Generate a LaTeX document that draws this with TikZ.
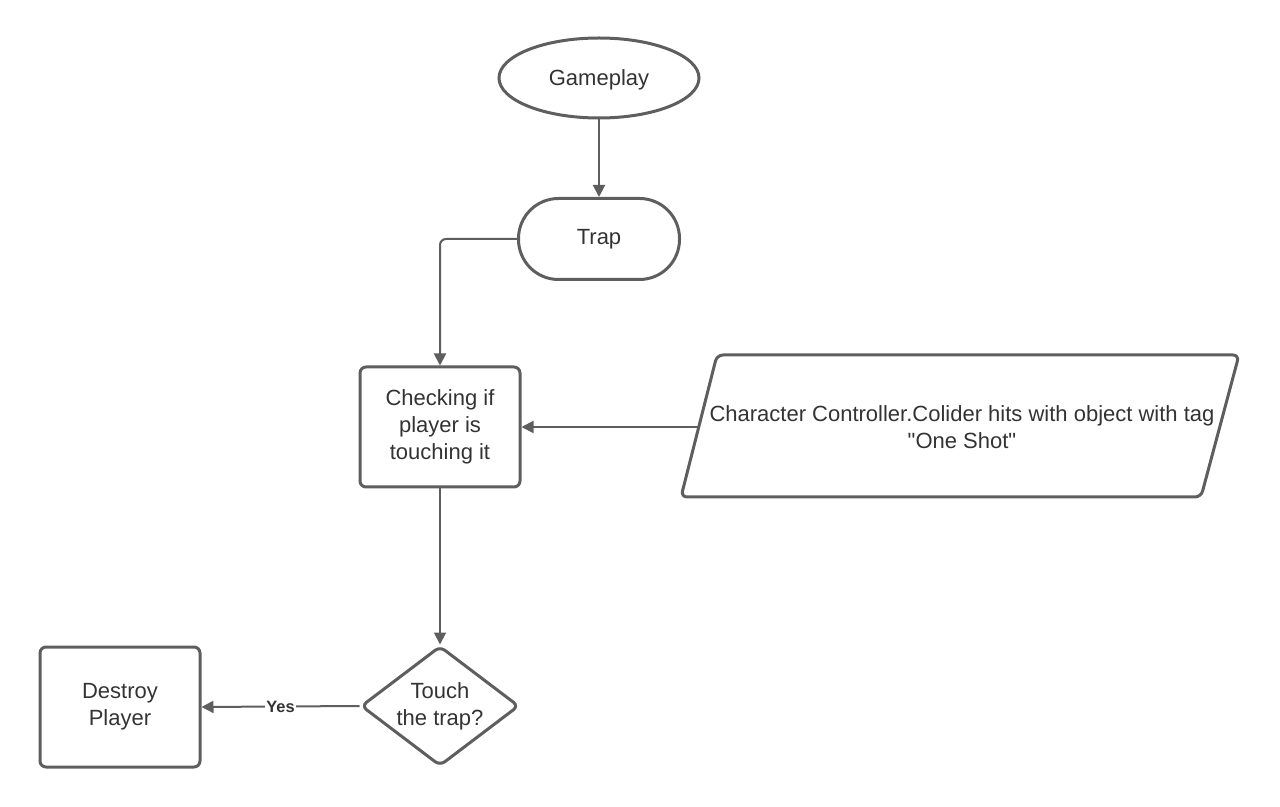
\documentclass[tikz,border=0pt]{standalone}
\usepackage{fontspec}
\setmainfont{Liberation Sans}
\usetikzlibrary{shapes.geometric,arrows.meta}
\definecolor{linegray}{HTML}{5E5E5E}
\definecolor{textgray}{HTML}{333333}
\begin{document}
\begin{tikzpicture}[x=0.5pt,y=-0.5pt,
  every node/.style={text=textgray,font=\fontsize{11}{13.5}\selectfont,align=center},
  shapeline/.style={draw=linegray,line width=1.5pt},
  flowline/.style={draw=linegray,line width=1pt,-{Triangle[length=6pt,width=6pt]}},
  boxshape/.style={shapeline,rectangle,rounded corners=3pt,minimum width=80pt,minimum height=60pt,inner sep=0pt}]
\useasboundingbox (0,0) rectangle (1280,807);
\node (game) at (599,78) [shapeline,ellipse,minimum width=100pt,minimum height=40pt,inner sep=0pt,text depth=0pt] {Gameplay};
\node (trap) at (599,239) [shapeline,rectangle,rounded corners=20pt,minimum width=80.5pt,minimum height=40.5pt] {Trap};
\node (check) at (440,427) [boxshape] {Checking if\\player is\\touching it};
\draw [shapeline,rounded corners=3pt] (717,355) -- (1239,355) -- (1201,497) -- (681,497) -- cycle;
\node (inp) at (962,427) {Character Controller.Colider hits with object with tag\\\textquotedbl One Shot\textquotedbl};
\coordinate (inpl) at (699,427);
\node (touch) at (440,706) [shapeline,diamond,rounded corners=3pt,shape aspect=1.3,minimum width=79pt,minimum height=60pt,inner sep=0pt] {Touch\\the trap?};
\node (destroy) at (120,707) [boxshape] {Destroy\\Player};

\draw [flowline] (game.south) -- (trap.north);
\draw [flowline,rounded corners=3pt] (trap.west) -| (check.north);
\draw [flowline] (inpl) -- (check.east);
\draw [flowline] (check.south) -- (touch.north);
\draw [flowline] (touch.west) -- node [fill=white,inner sep=0.5pt,font=\bfseries\fontsize{8.2}{10}\selectfont] {Yes} (destroy.east);
\end{tikzpicture}
\end{document}
